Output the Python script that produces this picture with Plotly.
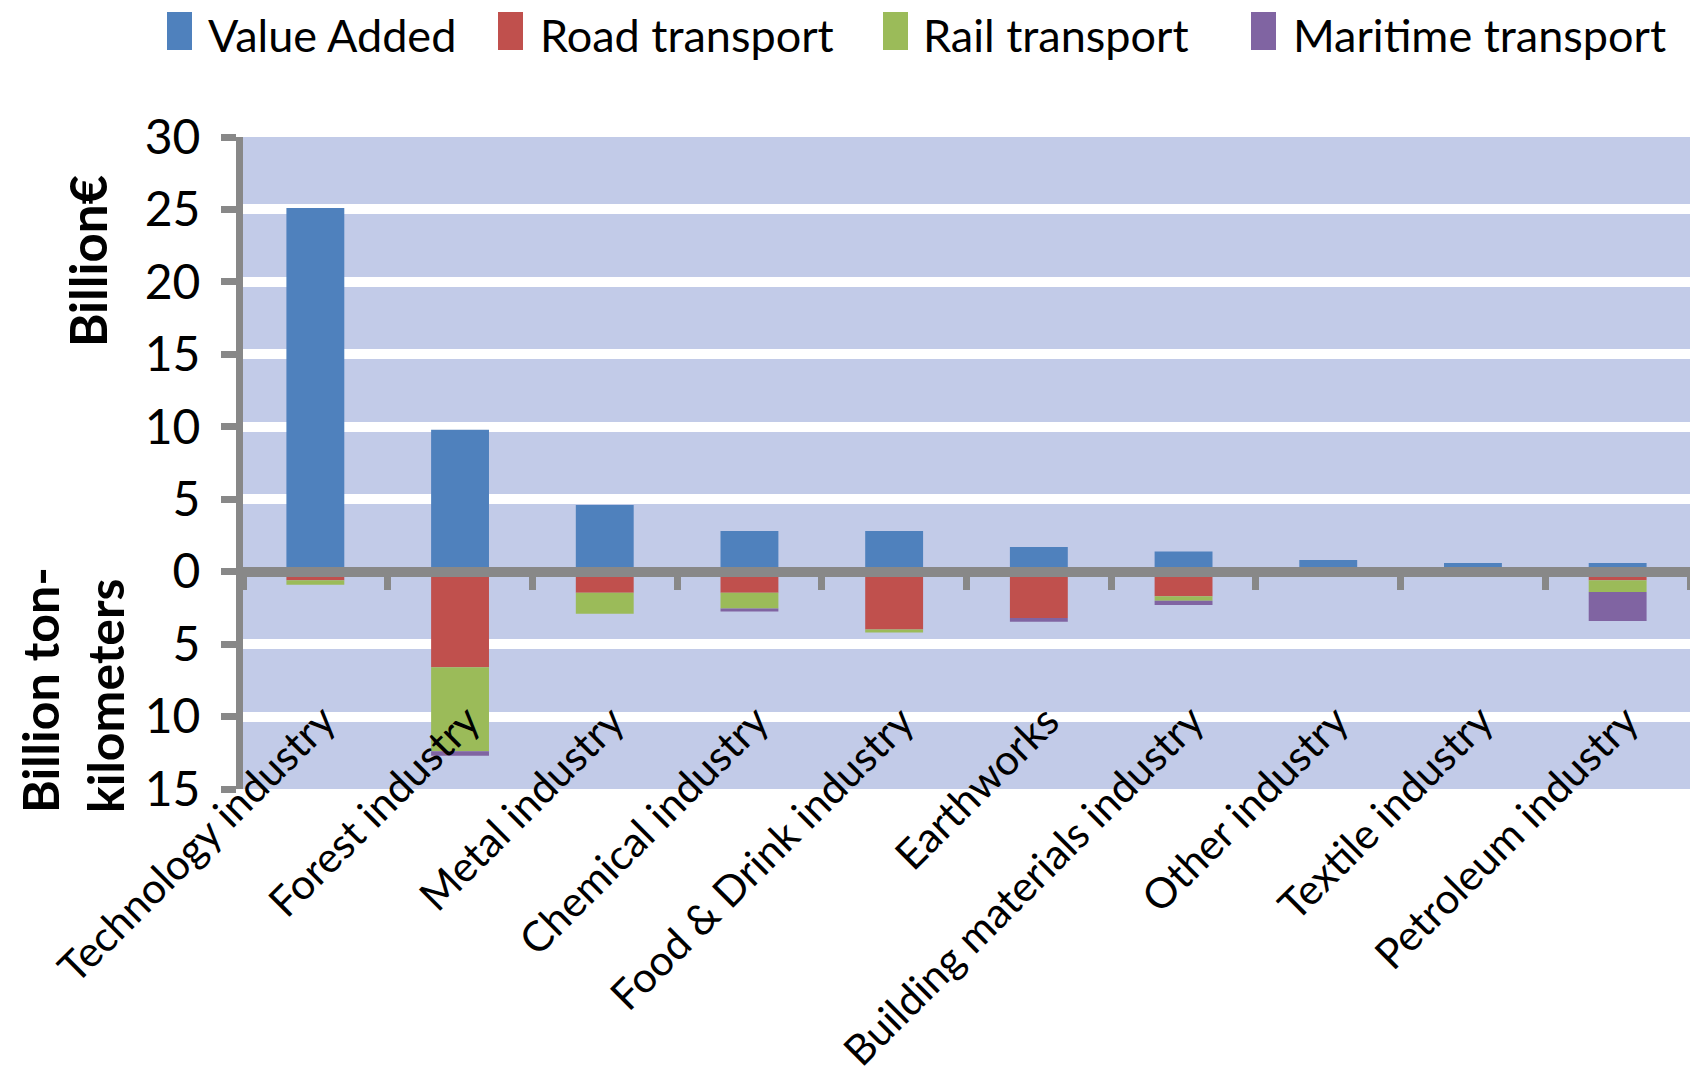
import plotly.graph_objects as go

# ---------------- data ----------------
categories = ["Technology industry", "Forest industry", "Metal industry",
              "Chemical industry", "Food & Drink industry", "Earthworks",
              "Building materials industry", "Other industry",
              "Textile industry", "Petroleum industry"]
value_added = [25.1, 9.8, 4.6, 2.8, 2.8, 1.7, 1.4, 0.8, 0.6, 0.6]      # Billion €
road_transport = [0.6, 6.6, 1.45, 1.45, 4.0, 3.2, 1.7, 0.1, 0.1, 0.6]  # Billion tkm
rail_transport = [0.3, 5.8, 1.45, 1.1, 0.2, 0.0, 0.3, 0.0, 0.0, 0.8]
maritime_transport = [0.0, 0.3, 0.0, 0.2, 0.0, 0.25, 0.3, 0.0, 0.0, 2.0]

series_names = ["Value Added", "Road transport", "Rail transport", "Maritime transport"]
series_colors = ["#4F81BD", "#C0504D", "#9BBB59", "#8064A2"]

y_tick_vals = [-15, -10, -5, 0, 5, 10, 15, 20, 25, 30]
y_tick_text = ["15", "10", "5", "0", "5", "10", "15", "20", "25", "30"]

# ---------------- layout geometry (pixels) ----------------
OFF = 8                      # page body margin
W, H = 1698 - 2 * OFF, 1085 - 2 * OFF
ML, MR, MT, MB = 243 - OFF, 0, 137 - OFF, 288
PW, PH = W - ML - MR, H - MT - MB
FONT = "Lato, Open Sans, sans-serif"
GRAY = "#888888"


def px_x(px):
    """page pixel x -> paper fraction"""
    return (px - OFF - ML) / PW


def px_y(py):
    """page pixel y -> paper fraction"""
    return (H - MB - (py - OFF)) / PH


fig = go.Figure()
values = [value_added,
          [-v for v in road_transport],
          [-v for v in rail_transport],
          [-v for v in maritime_transport]]
for name, color, vals in zip(series_names, series_colors, values):
    fig.add_trace(go.Bar(x=categories, y=vals, name=name,
                         marker=dict(color=color, line=dict(width=0))))

annotations = []
# category labels
for cat in categories:
    annotations.append(dict(x=cat, y=-8.3, xref="x", yref="y", text=cat,
                            textangle=-45, xanchor="right", yanchor="top",
                            xshift=32, showarrow=False,
                            font=dict(family=FONT, size=42, color="black")))
# axis titles
annotations.append(dict(x=px_x(87), y=px_y(261), xref="paper", yref="paper",
                        text="Billion€", textangle=-90, showarrow=False,
                        xanchor="center", yanchor="middle",
                        font=dict(family=FONT, size=51, color="black", weight=700)))
annotations.append(dict(x=px_x(72), y=px_y(690), xref="paper", yref="paper",
                        text="Billion ton-<br>kilometers", textangle=-90,
                        showarrow=False, align="left",
                        xanchor="center", yanchor="middle",
                        font=dict(family=FONT, size=50, color="black", weight=700)))

# custom legend
legend_marker_x = [167, 498, 883, 1251]
legend_text_x = [206, 538, 921, 1291]
shapes = []
for name, color, mx, tx in zip(series_names, series_colors, legend_marker_x, legend_text_x):
    shapes.append(dict(type="rect", xref="paper", yref="paper",
                       x0=px_x(mx), x1=px_x(mx + 25), y0=px_y(50), y1=px_y(12),
                       fillcolor=color, line=dict(width=0)))
    annotations.append(dict(x=px_x(tx), y=px_y(35), xref="paper", yref="paper",
                            text=name, showarrow=False, xanchor="left",
                            yanchor="middle",
                            font=dict(family=FONT, size=45, color="black")))

fig.update_layout(
    width=W, height=H,
    margin=dict(l=ML, r=MR, t=MT, b=MB, pad=0),
    paper_bgcolor="white", plot_bgcolor="#C2CBE8",
    barmode="relative", bargap=0.6,
    showlegend=False,
    annotations=annotations, shapes=shapes,
    xaxis=dict(type="category", range=[-0.5, 9.5], anchor="free",
               position=15 / 45, showline=True, linecolor=GRAY, linewidth=10,
               ticks="outside", tickson="boundaries", ticklen=13, tickwidth=7,
               tickcolor=GRAY, showticklabels=False, showgrid=False,
               zeroline=False),
    yaxis=dict(range=[-15, 30], tickvals=y_tick_vals, ticktext=y_tick_text,
               showgrid=True, gridcolor="white", gridwidth=10, zeroline=False,
               showline=True, linecolor=GRAY, linewidth=7, ticks="outside",
               ticklen=15, tickwidth=7, tickcolor=GRAY, ticklabelstandoff=11,
               tickfont=dict(family=FONT, size=48, color="black")),
)

fig.write_html("out.html")
